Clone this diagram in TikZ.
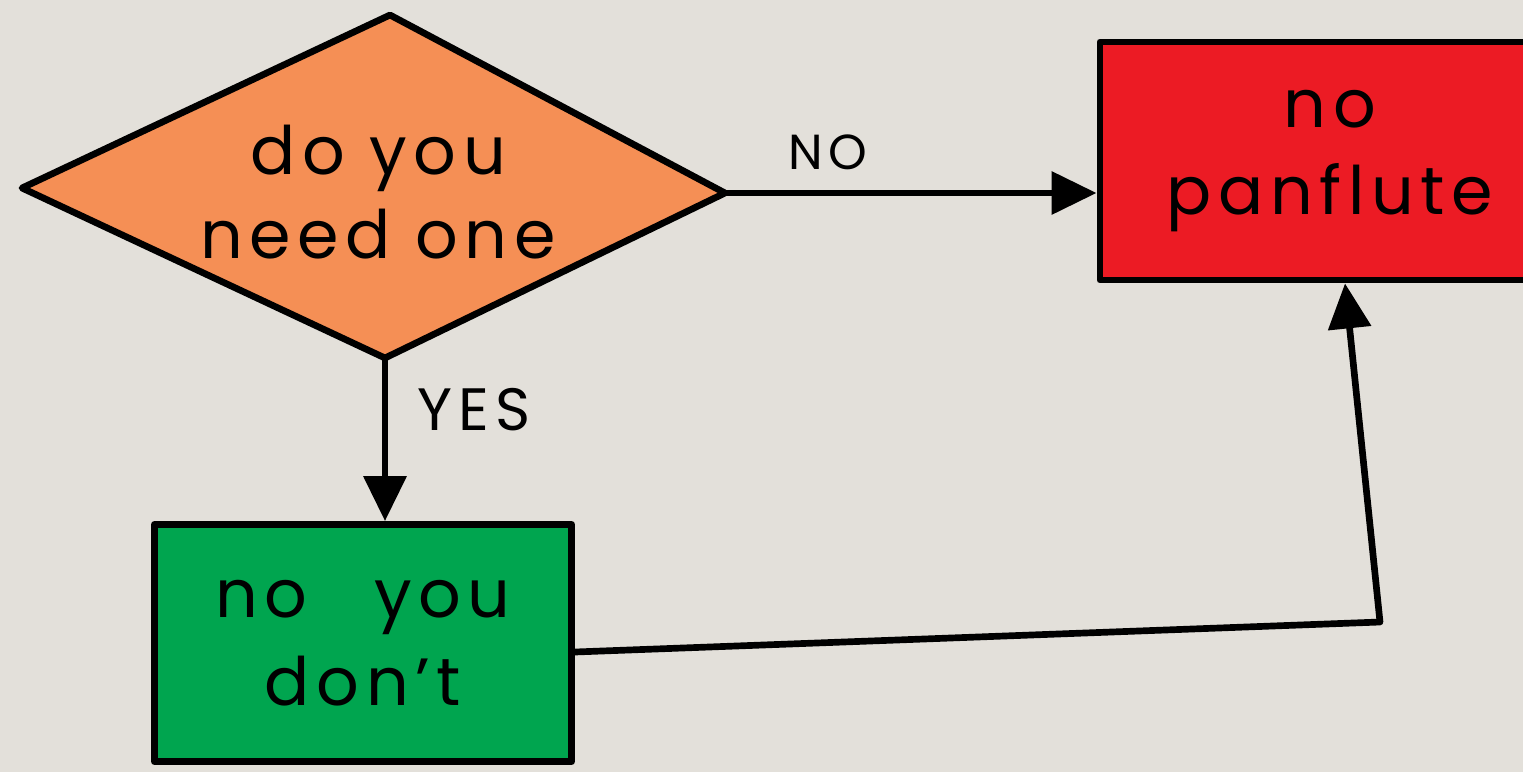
\documentclass[tikz,border=0pt]{standalone}
\usepackage{fontspec}
\setmainfont{Poppins}[LetterSpace=10]
\usetikzlibrary{arrows.meta,calc}
\definecolor{bgc}{HTML}{E3E0DA}
\definecolor{orangec}{HTML}{F58F55}
\definecolor{redc}{HTML}{EC1B24}
\definecolor{greenc}{HTML}{00A54F}
\tikzset{
  outline/.style={draw=black, line width=1.9pt, line join=round},
  qtext/.style={inner sep=0pt, align=center,
    font=\fontsize{19}{24}\selectfont},
  outcome/.style={outline, rectangle, inner sep=0pt, align=center,
    font=\fontsize{19}{25}\selectfont},
  link/.style={line width=1.9pt, line join=round,
    -{Triangle[length=0.45cm,width=0.42cm]}},
  lbl/.style={font=\fontsize{14}{16}\selectfont, inner sep=0pt}
}
\begin{document}
\begin{tikzpicture}[x=0.01cm,y=-0.01cm]
\useasboundingbox (0,0) rectangle (1523,772);
\clip (0,0) rectangle (1523,772);
\fill[bgc] (0,0) rectangle (1523,772);

% decision diamond
\coordinate (qL) at (22,188);
\coordinate (qT) at (390,15);
\coordinate (qR) at (725,193);
\coordinate (qB) at (385,358);
\filldraw[outline, fill=orangec] (qL) -- (qT) -- (qR) -- (qB) -- cycle;
\node[qtext] (q) at (378,192) {do you\\need one};

\node[outcome, fill=redc, minimum width=4.6cm, minimum height=2.38cm] (red) at (1330,161) {no\\panflute};
\node[outcome, fill=greenc, minimum width=4.17cm, minimum height=2.37cm] (green) at (363,643) {no\quad you\\don't};

\coordinate (bend) at (1380,622);

\draw[link] (qR) -- (qR -| red.west);
\draw[link] (qB) -- (qB |- green.north);
\draw[link] ([yshift=-0.09cm]green.east) -- (bend) -- ([xshift=0.15cm]red.south);

\node[lbl] (nolbl) at (828,152) {NO};
\node[lbl, font=\fontsize{17}{19}\selectfont] (yeslbl) at (474,410) {YES};
\end{tikzpicture}
\end{document}
